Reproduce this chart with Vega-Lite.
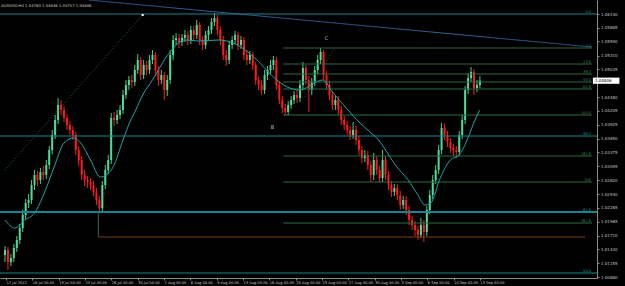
{
"$schema": "https://vega.github.io/schema/vega-lite/v6.json",
"width": 597, "height": 278,
"autosize": {"type": "none"},
"padding": {"left": 0, "top": 0, "right": 28, "bottom": 8},
"background": "#000000",
"config": {"view": {"stroke": null}, "font": "DejaVu Sans"},
"title": {"text": "AUDUSD,H4  1.04760 1.04846 1.04757 1.04806", "anchor": "start", "frame": "group", "orient": "top", "offset": -8, "dx": 1, "fontSize": 3.8, "fontWeight": "normal", "color": "#d0d0d0", "font": "DejaVu Sans"},
"resolve": {"axis": {"x": "independent", "y": "independent"}},
"datasets": {
"candles": [
{"i":0,"o":1.0132,"h":1.0150,"l":1.0118,"c":1.0142},
{"i":1,"o":1.0142,"h":1.0148,"l":1.0102,"c":1.0118},
{"i":2,"o":1.0118,"h":1.0134,"l":1.0110,"c":1.0126},
{"i":3,"o":1.0126,"h":1.0154,"l":1.0118,"c":1.0146},
{"i":4,"o":1.0146,"h":1.0170,"l":1.0138,"c":1.0162},
{"i":5,"o":1.0162,"h":1.0194,"l":1.0154,"c":1.0186},
{"i":6,"o":1.0186,"h":1.0222,"l":1.0178,"c":1.0212},
{"i":7,"o":1.0212,"h":1.0244,"l":1.0204,"c":1.0236},
{"i":8,"o":1.0236,"h":1.0254,"l":1.0226,"c":1.0242},
{"i":9,"o":1.0242,"h":1.0282,"l":1.0234,"c":1.0272},
{"i":10,"o":1.0272,"h":1.0302,"l":1.0262,"c":1.0292},
{"i":11,"o":1.0292,"h":1.0300,"l":1.0270,"c":1.0282},
{"i":12,"o":1.0282,"h":1.0306,"l":1.0274,"c":1.0298},
{"i":13,"o":1.0298,"h":1.0310,"l":1.0282,"c":1.0292},
{"i":14,"o":1.0292,"h":1.0322,"l":1.0284,"c":1.0312},
{"i":15,"o":1.0312,"h":1.0350,"l":1.0304,"c":1.0342},
{"i":16,"o":1.0342,"h":1.0382,"l":1.0334,"c":1.0372},
{"i":17,"o":1.0372,"h":1.0412,"l":1.0364,"c":1.0402},
{"i":18,"o":1.0402,"h":1.0446,"l":1.0394,"c":1.0432},
{"i":19,"o":1.0432,"h":1.0442,"l":1.0412,"c":1.0422},
{"i":20,"o":1.0422,"h":1.0430,"l":1.0398,"c":1.0406},
{"i":21,"o":1.0406,"h":1.0414,"l":1.0382,"c":1.0392},
{"i":22,"o":1.0392,"h":1.0400,"l":1.0372,"c":1.0382},
{"i":23,"o":1.0382,"h":1.0390,"l":1.0362,"c":1.0372},
{"i":24,"o":1.0372,"h":1.0378,"l":1.0332,"c":1.0342},
{"i":25,"o":1.0342,"h":1.0350,"l":1.0310,"c":1.0322},
{"i":26,"o":1.0322,"h":1.0330,"l":1.0282,"c":1.0292},
{"i":27,"o":1.0292,"h":1.0302,"l":1.0270,"c":1.0282},
{"i":28,"o":1.0282,"h":1.0290,"l":1.0266,"c":1.0278},
{"i":29,"o":1.0278,"h":1.0286,"l":1.0262,"c":1.0272},
{"i":30,"o":1.0272,"h":1.0280,"l":1.0250,"c":1.0258},
{"i":31,"o":1.0258,"h":1.0266,"l":1.0232,"c":1.0242},
{"i":32,"o":1.0242,"h":1.0250,"l":1.0216,"c":1.0226},
{"i":33,"o":1.0226,"h":1.0280,"l":1.0220,"c":1.0272},
{"i":34,"o":1.0272,"h":1.0312,"l":1.0264,"c":1.0302},
{"i":35,"o":1.0302,"h":1.0332,"l":1.0294,"c":1.0322},
{"i":36,"o":1.0322,"h":1.0416,"l":1.0314,"c":1.0406},
{"i":37,"o":1.0406,"h":1.0418,"l":1.0390,"c":1.0402},
{"i":38,"o":1.0402,"h":1.0422,"l":1.0394,"c":1.0412},
{"i":39,"o":1.0412,"h":1.0432,"l":1.0404,"c":1.0422},
{"i":40,"o":1.0422,"h":1.0462,"l":1.0414,"c":1.0452},
{"i":41,"o":1.0452,"h":1.0482,"l":1.0444,"c":1.0472},
{"i":42,"o":1.0472,"h":1.0490,"l":1.0462,"c":1.0482},
{"i":43,"o":1.0482,"h":1.0492,"l":1.0466,"c":1.0478},
{"i":44,"o":1.0478,"h":1.0512,"l":1.0470,"c":1.0502},
{"i":45,"o":1.0502,"h":1.0534,"l":1.0494,"c":1.0522},
{"i":46,"o":1.0522,"h":1.0528,"l":1.0482,"c":1.0492},
{"i":47,"o":1.0492,"h":1.0522,"l":1.0484,"c":1.0512},
{"i":48,"o":1.0512,"h":1.0520,"l":1.0492,"c":1.0502},
{"i":49,"o":1.0502,"h":1.0532,"l":1.0494,"c":1.0522},
{"i":50,"o":1.0522,"h":1.0542,"l":1.0514,"c":1.0532},
{"i":51,"o":1.0532,"h":1.0538,"l":1.0492,"c":1.0502},
{"i":52,"o":1.0502,"h":1.0510,"l":1.0470,"c":1.0482},
{"i":53,"o":1.0482,"h":1.0502,"l":1.0474,"c":1.0492},
{"i":54,"o":1.0492,"h":1.0498,"l":1.0442,"c":1.0462},
{"i":55,"o":1.0462,"h":1.0492,"l":1.0450,"c":1.0482},
{"i":56,"o":1.0482,"h":1.0542,"l":1.0474,"c":1.0532},
{"i":57,"o":1.0532,"h":1.0572,"l":1.0522,"c":1.0562},
{"i":58,"o":1.0562,"h":1.0576,"l":1.0552,"c":1.0566},
{"i":59,"o":1.0566,"h":1.0574,"l":1.0546,"c":1.0558},
{"i":60,"o":1.0558,"h":1.0574,"l":1.0550,"c":1.0566},
{"i":61,"o":1.0566,"h":1.0582,"l":1.0558,"c":1.0572},
{"i":62,"o":1.0572,"h":1.0580,"l":1.0552,"c":1.0562},
{"i":63,"o":1.0562,"h":1.0590,"l":1.0554,"c":1.0582},
{"i":64,"o":1.0582,"h":1.0590,"l":1.0562,"c":1.0572},
{"i":65,"o":1.0572,"h":1.0602,"l":1.0564,"c":1.0592},
{"i":66,"o":1.0592,"h":1.0598,"l":1.0552,"c":1.0562},
{"i":67,"o":1.0562,"h":1.0570,"l":1.0542,"c":1.0552},
{"i":68,"o":1.0552,"h":1.0580,"l":1.0544,"c":1.0572},
{"i":69,"o":1.0572,"h":1.0590,"l":1.0562,"c":1.0582},
{"i":70,"o":1.0582,"h":1.0606,"l":1.0574,"c":1.0598},
{"i":71,"o":1.0598,"h":1.0616,"l":1.0590,"c":1.0606},
{"i":72,"o":1.0606,"h":1.0612,"l":1.0572,"c":1.0582},
{"i":73,"o":1.0582,"h":1.0590,"l":1.0552,"c":1.0562},
{"i":74,"o":1.0562,"h":1.0570,"l":1.0522,"c":1.0532},
{"i":75,"o":1.0532,"h":1.0542,"l":1.0510,"c":1.0522},
{"i":76,"o":1.0522,"h":1.0560,"l":1.0514,"c":1.0552},
{"i":77,"o":1.0552,"h":1.0570,"l":1.0544,"c":1.0562},
{"i":78,"o":1.0562,"h":1.0580,"l":1.0554,"c":1.0572},
{"i":79,"o":1.0572,"h":1.0578,"l":1.0542,"c":1.0552},
{"i":80,"o":1.0552,"h":1.0570,"l":1.0544,"c":1.0562},
{"i":81,"o":1.0562,"h":1.0568,"l":1.0522,"c":1.0532},
{"i":82,"o":1.0532,"h":1.0542,"l":1.0512,"c":1.0522},
{"i":83,"o":1.0522,"h":1.0540,"l":1.0514,"c":1.0532},
{"i":84,"o":1.0532,"h":1.0538,"l":1.0502,"c":1.0512},
{"i":85,"o":1.0512,"h":1.0518,"l":1.0472,"c":1.0482},
{"i":86,"o":1.0482,"h":1.0490,"l":1.0462,"c":1.0472},
{"i":87,"o":1.0472,"h":1.0482,"l":1.0452,"c":1.0462},
{"i":88,"o":1.0462,"h":1.0502,"l":1.0454,"c":1.0492},
{"i":89,"o":1.0492,"h":1.0510,"l":1.0482,"c":1.0502},
{"i":90,"o":1.0502,"h":1.0522,"l":1.0494,"c":1.0512},
{"i":91,"o":1.0512,"h":1.0530,"l":1.0502,"c":1.0522},
{"i":92,"o":1.0522,"h":1.0528,"l":1.0462,"c":1.0472},
{"i":93,"o":1.0472,"h":1.0480,"l":1.0434,"c":1.0442},
{"i":94,"o":1.0442,"h":1.0450,"l":1.0416,"c":1.0426},
{"i":95,"o":1.0426,"h":1.0434,"l":1.0410,"c":1.0418},
{"i":96,"o":1.0418,"h":1.0440,"l":1.0412,"c":1.0432},
{"i":97,"o":1.0432,"h":1.0450,"l":1.0424,"c":1.0442},
{"i":98,"o":1.0442,"h":1.0460,"l":1.0434,"c":1.0452},
{"i":99,"o":1.0452,"h":1.0462,"l":1.0436,"c":1.0446},
{"i":100,"o":1.0446,"h":1.0482,"l":1.0438,"c":1.0472},
{"i":101,"o":1.0472,"h":1.0518,"l":1.0464,"c":1.0506},
{"i":102,"o":1.0506,"h":1.0512,"l":1.0472,"c":1.0482},
{"i":103,"o":1.0482,"h":1.0490,"l":1.0418,"c":1.0462},
{"i":104,"o":1.0462,"h":1.0486,"l":1.0452,"c":1.0478},
{"i":105,"o":1.0478,"h":1.0510,"l":1.0470,"c":1.0502},
{"i":106,"o":1.0502,"h":1.0532,"l":1.0494,"c":1.0522},
{"i":107,"o":1.0522,"h":1.0546,"l":1.0514,"c":1.0538},
{"i":108,"o":1.0538,"h":1.0542,"l":1.0482,"c":1.0492},
{"i":109,"o":1.0492,"h":1.0500,"l":1.0462,"c":1.0472},
{"i":110,"o":1.0472,"h":1.0480,"l":1.0442,"c":1.0452},
{"i":111,"o":1.0452,"h":1.0460,"l":1.0422,"c":1.0432},
{"i":112,"o":1.0432,"h":1.0450,"l":1.0422,"c":1.0442},
{"i":113,"o":1.0442,"h":1.0450,"l":1.0412,"c":1.0422},
{"i":114,"o":1.0422,"h":1.0430,"l":1.0392,"c":1.0402},
{"i":115,"o":1.0402,"h":1.0410,"l":1.0382,"c":1.0392},
{"i":116,"o":1.0392,"h":1.0400,"l":1.0372,"c":1.0382},
{"i":117,"o":1.0382,"h":1.0390,"l":1.0362,"c":1.0372},
{"i":118,"o":1.0372,"h":1.0398,"l":1.0364,"c":1.0382},
{"i":119,"o":1.0382,"h":1.0390,"l":1.0352,"c":1.0362},
{"i":120,"o":1.0362,"h":1.0370,"l":1.0332,"c":1.0342},
{"i":121,"o":1.0342,"h":1.0350,"l":1.0316,"c":1.0326},
{"i":122,"o":1.0326,"h":1.0342,"l":1.0318,"c":1.0332},
{"i":123,"o":1.0332,"h":1.0340,"l":1.0302,"c":1.0312},
{"i":124,"o":1.0312,"h":1.0320,"l":1.0278,"c":1.0292},
{"i":125,"o":1.0292,"h":1.0336,"l":1.0282,"c":1.0322},
{"i":126,"o":1.0322,"h":1.0330,"l":1.0292,"c":1.0302},
{"i":127,"o":1.0302,"h":1.0310,"l":1.0276,"c":1.0286},
{"i":128,"o":1.0286,"h":1.0342,"l":1.0278,"c":1.0322},
{"i":129,"o":1.0322,"h":1.0330,"l":1.0282,"c":1.0292},
{"i":130,"o":1.0292,"h":1.0300,"l":1.0262,"c":1.0272},
{"i":131,"o":1.0272,"h":1.0280,"l":1.0248,"c":1.0258},
{"i":132,"o":1.0258,"h":1.0274,"l":1.0250,"c":1.0266},
{"i":133,"o":1.0266,"h":1.0274,"l":1.0242,"c":1.0252},
{"i":134,"o":1.0252,"h":1.0260,"l":1.0222,"c":1.0232},
{"i":135,"o":1.0232,"h":1.0250,"l":1.0224,"c":1.0242},
{"i":136,"o":1.0242,"h":1.0250,"l":1.0212,"c":1.0222},
{"i":137,"o":1.0222,"h":1.0230,"l":1.0192,"c":1.0202},
{"i":138,"o":1.0202,"h":1.0210,"l":1.0182,"c":1.0192},
{"i":139,"o":1.0192,"h":1.0200,"l":1.0170,"c":1.0182},
{"i":140,"o":1.0182,"h":1.0190,"l":1.0162,"c":1.0172},
{"i":141,"o":1.0172,"h":1.0206,"l":1.0166,"c":1.0192},
{"i":142,"o":1.0192,"h":1.0202,"l":1.0158,"c":1.0178},
{"i":143,"o":1.0178,"h":1.0230,"l":1.0170,"c":1.0222},
{"i":144,"o":1.0222,"h":1.0262,"l":1.0214,"c":1.0252},
{"i":145,"o":1.0252,"h":1.0292,"l":1.0244,"c":1.0282},
{"i":146,"o":1.0282,"h":1.0312,"l":1.0274,"c":1.0302},
{"i":147,"o":1.0302,"h":1.0352,"l":1.0294,"c":1.0342},
{"i":148,"o":1.0342,"h":1.0396,"l":1.0334,"c":1.0386},
{"i":149,"o":1.0386,"h":1.0394,"l":1.0362,"c":1.0372},
{"i":150,"o":1.0372,"h":1.0380,"l":1.0348,"c":1.0358},
{"i":151,"o":1.0358,"h":1.0366,"l":1.0336,"c":1.0346},
{"i":152,"o":1.0346,"h":1.0354,"l":1.0330,"c":1.0342},
{"i":153,"o":1.0342,"h":1.0350,"l":1.0326,"c":1.0338},
{"i":154,"o":1.0338,"h":1.0380,"l":1.0330,"c":1.0372},
{"i":155,"o":1.0372,"h":1.0412,"l":1.0364,"c":1.0402},
{"i":156,"o":1.0402,"h":1.0470,"l":1.0394,"c":1.0462},
{"i":157,"o":1.0462,"h":1.0496,"l":1.0454,"c":1.0486},
{"i":158,"o":1.0486,"h":1.0508,"l":1.0478,"c":1.0498},
{"i":159,"o":1.0498,"h":1.0504,"l":1.0452,"c":1.0466},
{"i":160,"o":1.0466,"h":1.0482,"l":1.0458,"c":1.0472},
{"i":161,"o":1.0472,"h":1.0490,"l":1.0466,"c":1.0481}
],
"ma": [
{"i":0,"p":1.0202},{"i":3.33,"p":1.0186},{"i":6.67,"p":1.0202},{"i":10,"p":1.0216},{"i":13.33,"p":1.0256},
{"i":16.67,"p":1.0308},{"i":20,"p":1.0356},{"i":23.33,"p":1.0366},{"i":25.67,"p":1.0356},{"i":29,"p":1.0322},
{"i":32.33,"p":1.0288},{"i":34.33,"p":1.0292},{"i":36.67,"p":1.0308},{"i":40,"p":1.0362},{"i":42.33,"p":1.0398},
{"i":44.33,"p":1.0422},{"i":46.67,"p":1.0452},{"i":50,"p":1.0482},{"i":55.67,"p":1.0536},{"i":61,"p":1.0562},
{"i":65.67,"p":1.0560},{"i":72.33,"p":1.0562},{"i":80,"p":1.0548},{"i":84.33,"p":1.0528},{"i":91,"p":1.0488},
{"i":95.67,"p":1.0468},{"i":100,"p":1.0462},{"i":104.33,"p":1.0474},{"i":107.67,"p":1.0482},{"i":111,"p":1.0458},
{"i":115.67,"p":1.0426},{"i":120,"p":1.0398},{"i":123.33,"p":1.0380},{"i":126.67,"p":1.0362},{"i":129,"p":1.0342},
{"i":132.33,"p":1.0312},{"i":136.67,"p":1.0282},{"i":140,"p":1.0252},{"i":142.33,"p":1.0232},{"i":144.33,"p":1.0236},
{"i":147.67,"p":1.0288},{"i":151,"p":1.0322},{"i":154,"p":1.0332},{"i":156.67,"p":1.0362},{"i":159.33,"p":1.0402},
{"i":161,"p":1.0422}
],
"teal": [
{"p":1.0614,"t":"0.0","w":"thin"},
{"p":1.0370,"t":"38.2","w":"thin"},
{"p":1.0218,"t":"61.8","w":"thick"},
{"p":1.0096,"t":"50.0","w":"thin"}
],
"fib": [
{"p":1.0546,"t":"0.0"},
{"p":1.0514,"t":"23.6"},
{"p":1.0494,"t":"38.2"},
{"p":1.0478,"t":"50.0"},
{"p":1.0464,"t":"61.8"},
{"p":1.0412,"t":"100.0"},
{"p":1.0330,"t":"161.8"},
{"p":1.0278,"t":"200"},
{"p":1.0196,"t":"261.8"}
],
"segs": [
{"k":"trend","i":28.33,"p":1.0642,"i2":199,"p2":1.0548},
{"k":"dot","i":0,"p":1.0302,"i2":46.67,"p2":1.0612},
{"k":"dot","i":101.67,"p":1.0448,"i2":111.67,"p2":1.0546},
{"k":"brown","i":31.67,"p":1.0168,"i2":196.7,"p2":1.0168},
{"k":"stem","i":31.67,"p":1.0218,"i2":31.67,"p2":1.0168}
],
"marks": [
{"i":90.67,"p":1.0388,"t":"B"},
{"i":109,"p":1.0566,"t":"C"}
],
"anchor": [{"i":46.67,"p":1.0612}],
"last": [{"p":1.04806,"t":"1.04806"}]
},
"layer": [
{
"data": {"name": "candles"},
"mark": {"type": "rule", "strokeWidth": 1},
"encoding": {
"x": {"field": "i", "type": "quantitative", "scale": {"domain": [0, 199], "nice": false, "zero": false},
 "axis": {"orient": "bottom", "title": null, "grid": false, "values": [0.33,9.26,18.19,27.11,36.04,44.97,53.89,62.82,71.75,80.68,89.6,98.53,107.46,116.38,125.31,134.24,143.17,152.09,161.02],
 "labelExpr": "['12 Jul 2012','16 Jul 00:00','19 Jul 00:00','23 Jul 00:00','26 Jul 00:00','30 Jul 00:00','2 Aug 00:00','6 Aug 00:00','9 Aug 00:00','13 Aug 00:00','16 Aug 00:00','20 Aug 00:00','23 Aug 00:00','27 Aug 00:00','30 Aug 00:00','3 Sep 00:00','6 Sep 00:00','10 Sep 00:00','13 Sep 00:00'][round((datum.value-0.33)/8.927)]",
 "labelAlign": "left", "labelBaseline": "top", "labelPadding": 0, "labelFontSize": 3.6, "labelColor": "#c8c8c8", "labelOverlap": false, "labelFlush": false, "labelBound": false,
 "tickSize": 2, "tickColor": "#8c8c8c", "domainColor": "#8c8c8c"}},
"y": {"field": "l", "type": "quantitative", "scale": {"domain": [1.0086, 1.0642], "nice": false, "zero": false},
 "axis": {"orient": "right", "title": null, "grid": false, "format": ".5f",
 "values": [1.0614,1.05865,1.0559,1.0531,1.05035,1.0448,1.04205,1.03925,1.0365,1.03375,1.03095,1.0282,1.0254,1.02265,1.01985,1.0171,1.0143,1.01155,1.0088],
 "labelFontSize": 4, "labelColor": "#c8c8c8", "labelPadding": 1.5, "labelOverlap": false, "labelFlush": false, "labelBound": false,
 "tickSize": 2, "tickColor": "#8c8c8c", "domainColor": "#8c8c8c"}},
"y2": {"field": "h"},
"color": {"condition": {"test": "datum.c >= datum.o", "value": "#3fcf8a"}, "value": "#ff1a1a"}
}
},
{
"data": {"name": "candles"},
"mark": {"type": "bar", "width": 2},
"encoding": {
"x": {"field": "i", "type": "quantitative", "scale": {"domain": [0, 199], "nice": false, "zero": false}, "axis": null},
"y": {"field": "o", "type": "quantitative", "scale": {"domain": [1.0086, 1.0642], "nice": false, "zero": false}, "axis": null},
"y2": {"field": "c"},
"color": {"condition": {"test": "datum.c >= datum.o", "value": "#4fdc98"}, "value": "#ff1a1a"}
}
},
{
"data": {"name": "teal"},
"mark": {"type": "rule", "color": "#12878d"},
"encoding": {
"y": {"field": "p", "type": "quantitative", "scale": {"domain": [1.0086, 1.0642], "nice": false, "zero": false}, "axis": null},
"strokeWidth": {"condition": {"test": "datum.w == 'thick'", "value": 2}, "value": 1}
}
},
{
"data": {"name": "fib"},
"mark": {"type": "rule", "color": "#2c6b42", "strokeWidth": 1},
"encoding": {
"x": {"datum": 94.33, "type": "quantitative", "scale": {"domain": [0, 199], "nice": false, "zero": false}, "axis": null},
"x2": {"datum": 199},
"y": {"field": "p", "type": "quantitative", "scale": {"domain": [1.0086, 1.0642], "nice": false, "zero": false}, "axis": null}
}
},
{
"data": {"name": "segs"},
"mark": {"type": "rule", "strokeWidth": 1},
"encoding": {
"x": {"field": "i", "type": "quantitative", "scale": {"domain": [0, 199], "nice": false, "zero": false}, "axis": null},
"x2": {"field": "i2"},
"y": {"field": "p", "type": "quantitative", "scale": {"domain": [1.0086, 1.0642], "nice": false, "zero": false}, "axis": null},
"y2": {"field": "p2"},
"color": {"field": "k", "type": "nominal", "scale": {"domain": ["trend", "dot", "brown", "stem"], "range": ["#34649e", "#1f6e4e", "#8a4a1c", "#2c6b42"]}, "legend": null},
"strokeDash": {"field": "k", "type": "nominal", "scale": {"domain": ["trend", "dot", "brown", "stem"], "range": [[1, 0], [1, 2], [1, 0], [1, 0]]}, "legend": null}
}
},
{
"data": {"name": "ma"},
"mark": {"type": "line", "color": "#1ea3aa", "strokeWidth": 1, "interpolate": "monotone"},
"encoding": {
"x": {"field": "i", "type": "quantitative", "scale": {"domain": [0, 199], "nice": false, "zero": false}, "axis": null},
"y": {"field": "p", "type": "quantitative", "scale": {"domain": [1.0086, 1.0642], "nice": false, "zero": false}, "axis": null}
}
},
{
"data": {"name": "teal"},
"mark": {"type": "text", "align": "right", "baseline": "bottom", "fontSize": 3.6, "color": "#1a9fa5"},
"encoding": {
"x": {"datum": 198.7, "type": "quantitative", "scale": {"domain": [0, 199], "nice": false, "zero": false}, "axis": null},
"y": {"field": "p", "type": "quantitative", "scale": {"domain": [1.0086, 1.0642], "nice": false, "zero": false}, "axis": null},
"text": {"field": "t"}
}
},
{
"data": {"name": "fib"},
"mark": {"type": "text", "align": "right", "baseline": "bottom", "fontSize": 3.6, "color": "#3a8a52"},
"encoding": {
"x": {"datum": 198.7, "type": "quantitative", "scale": {"domain": [0, 199], "nice": false, "zero": false}, "axis": null},
"y": {"field": "p", "type": "quantitative", "scale": {"domain": [1.0086, 1.0642], "nice": false, "zero": false}, "axis": null},
"text": {"field": "t"}
}
},
{
"data": {"name": "marks"},
"mark": {"type": "text", "align": "center", "baseline": "middle", "fontSize": 5, "color": "#b8b8b8"},
"encoding": {
"x": {"field": "i", "type": "quantitative", "scale": {"domain": [0, 199], "nice": false, "zero": false}, "axis": null},
"y": {"field": "p", "type": "quantitative", "scale": {"domain": [1.0086, 1.0642], "nice": false, "zero": false}, "axis": null},
"text": {"field": "t"}
}
},
{
"data": {"name": "anchor"},
"mark": {"type": "square", "filled": true, "color": "#ffffff", "size": 4, "opacity": 1},
"encoding": {
"x": {"field": "i", "type": "quantitative", "scale": {"domain": [0, 199], "nice": false, "zero": false}, "axis": null},
"y": {"field": "p", "type": "quantitative", "scale": {"domain": [1.0086, 1.0642], "nice": false, "zero": false}, "axis": null}
}
},
{
"data": {"name": "last"},
"mark": {"type": "rect", "color": "#ffffff"},
"encoding": {
"x": {"datum": 199.3, "type": "quantitative", "scale": {"domain": [0, 199], "nice": false, "zero": false}, "axis": null},
"x2": {"datum": 208.3},
"y": {"datum": 1.04868, "type": "quantitative", "scale": {"domain": [1.0086, 1.0642], "nice": false, "zero": false}, "axis": null},
"y2": {"datum": 1.04744}
}
},
{
"data": {"name": "last"},
"mark": {"type": "text", "align": "left", "baseline": "middle", "fontSize": 4, "color": "#000000"},
"encoding": {
"x": {"datum": 200, "type": "quantitative", "scale": {"domain": [0, 199], "nice": false, "zero": false}, "axis": null},
"y": {"field": "p", "type": "quantitative", "scale": {"domain": [1.0086, 1.0642], "nice": false, "zero": false}, "axis": null},
"text": {"field": "t"}
}
}
]
}
